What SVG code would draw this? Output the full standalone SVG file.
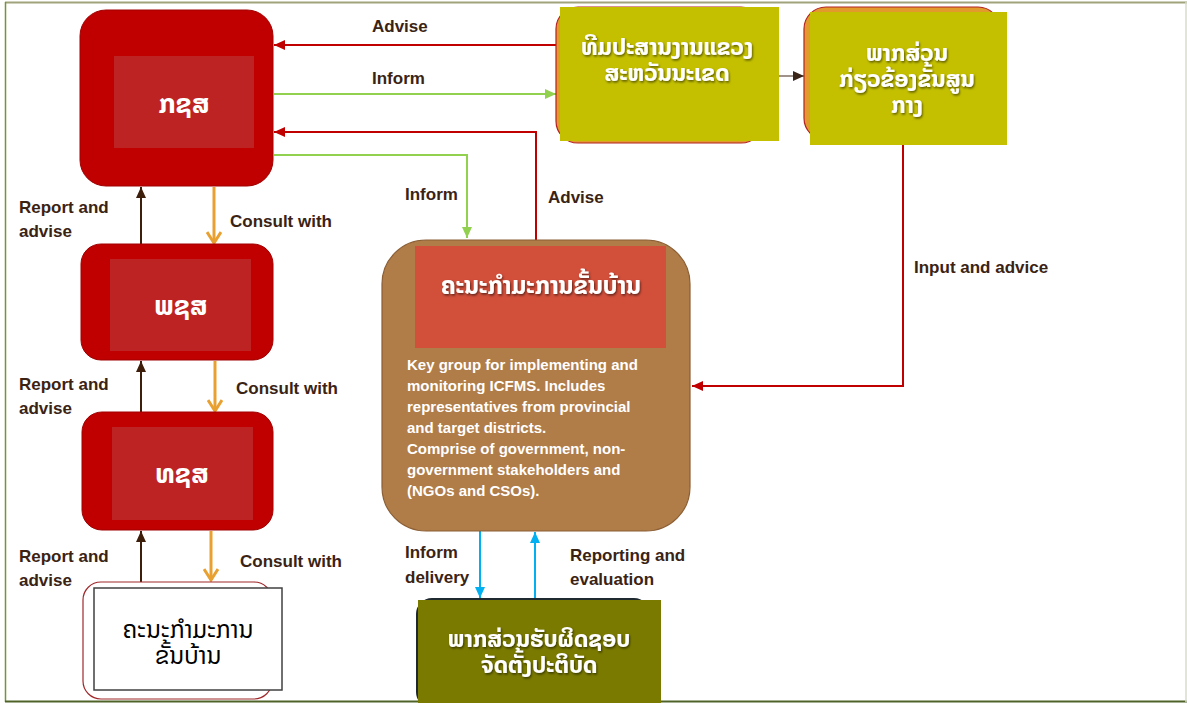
<svg xmlns="http://www.w3.org/2000/svg" width="1187" height="703" viewBox="0 0 1187 703">
<style>
.lbl{font-family:"Liberation Sans",Arial,sans-serif;font-weight:bold;font-size:17px;fill:#3B2314}
.lao{font-family:"Noto Sans Lao","DejaVu Sans",sans-serif;font-weight:bold;fill:#ffffff;text-anchor:middle}
.body{font-family:"Liberation Sans",Arial,sans-serif;font-weight:bold;font-size:15px;fill:#ffffff}
.redbox{fill:#C00000;stroke:#A00000;stroke-width:1}
.inner{fill:#BD2323}
.ln{fill:none;stroke-width:2}
</style>
<defs>
<filter id="sh" x="-10%" y="-20%" width="120%" height="150%">
<feDropShadow dx="1" dy="1.5" stdDeviation="0.8" flood-color="#000" flood-opacity="0.55"/>
</filter>
<marker id="mRed" markerUnits="userSpaceOnUse" markerWidth="12" markerHeight="10" refX="11" refY="5" orient="auto"><path d="M0,0 L11,5 L0,10 Z" fill="#C00000"/></marker>
<marker id="mGreen" markerUnits="userSpaceOnUse" markerWidth="12" markerHeight="10" refX="11" refY="5" orient="auto"><path d="M0,0 L11,5 L0,10 Z" fill="#92D050"/></marker>
<marker id="mBrown" markerUnits="userSpaceOnUse" markerWidth="12" markerHeight="10" refX="11" refY="5" orient="auto"><path d="M0,0 L11,5 L0,10 Z" fill="#3C1E0A"/></marker>
<marker id="mDark" markerUnits="userSpaceOnUse" markerWidth="12" markerHeight="10" refX="11" refY="5" orient="auto"><path d="M0,0 L11,5 L0,10 Z" fill="#3A2418"/></marker>
<marker id="mBlue" markerUnits="userSpaceOnUse" markerWidth="12" markerHeight="10" refX="11" refY="5" orient="auto"><path d="M0,0 L11,5 L0,10 Z" fill="#00B0F0"/></marker>
<marker id="mOrange" markerUnits="userSpaceOnUse" markerWidth="16" markerHeight="16" refX="13" refY="8" orient="auto"><path d="M2,1 L13,8 L2,15" fill="none" stroke="#E8A030" stroke-width="3"/></marker>
</defs>
<rect x="0" y="0" width="1187" height="703" fill="#ffffff"/>
<g id="frame">
<line x1="5" y1="2.5" x2="1187" y2="2.5" stroke="#A0A37C" stroke-width="2"/>
<line x1="5.5" y1="2" x2="5.5" y2="702" stroke="#76923C" stroke-width="1.5"/>
<line x1="5" y1="701.5" x2="1187" y2="701.5" stroke="#4F6228" stroke-width="2"/>
<line x1="1186" y1="2" x2="1186" y2="702" stroke="#D8DCC8" stroke-width="1.5"/>
</g>
<g id="connectors">
<line class="ln" x1="556" y1="45" x2="274" y2="45" stroke="#C00000" marker-end="url(#mRed)"/>
<line class="ln" x1="274" y1="94" x2="556" y2="94" stroke="#92D050" marker-end="url(#mGreen)"/>
<path class="ln" d="M536,240 V132 H274" stroke="#C00000" marker-end="url(#mRed)"/>
<path class="ln" d="M274,155 H467 V238" stroke="#92D050" marker-end="url(#mGreen)"/>
<path class="ln" d="M903,145 V386 H692" stroke="#C00000" marker-end="url(#mRed)"/>
<line x1="779" y1="76" x2="804" y2="76" stroke="#7F6F66" stroke-width="1.5" marker-end="url(#mDark)"/>
<line class="ln" x1="141" y1="244" x2="141" y2="187" stroke="#3C1E0A" marker-end="url(#mBrown)"/>
<line class="ln" x1="141" y1="412" x2="141" y2="361" stroke="#3C1E0A" marker-end="url(#mBrown)"/>
<line class="ln" x1="141" y1="582" x2="141" y2="531" stroke="#3C1E0A" marker-end="url(#mBrown)"/>
<line x1="214" y1="187" x2="214" y2="243" stroke="#E8A030" stroke-width="3" marker-end="url(#mOrange)"/>
<line x1="215" y1="361" x2="215" y2="411" stroke="#E8A030" stroke-width="3" marker-end="url(#mOrange)"/>
<line x1="211" y1="531" x2="211" y2="580" stroke="#E8A030" stroke-width="3" marker-end="url(#mOrange)"/>
<line class="ln" x1="480" y1="531" x2="480" y2="598" stroke="#00B0F0" marker-end="url(#mBlue)"/>
<line class="ln" x1="535" y1="598" x2="535" y2="532" stroke="#00B0F0" marker-end="url(#mBlue)"/>
</g>
<g id="labels">
<text class="lbl" x="372" y="32">Advise</text>
<text class="lbl" x="372" y="84">Inform</text>
<text class="lbl" x="405" y="200">Inform</text>
<text class="lbl" x="548" y="203">Advise</text>
<text class="lbl" x="914" y="273">Input and advice</text>
<text class="lbl" x="19" y="213">Report and</text>
<text class="lbl" x="19" y="237">advise</text>
<text class="lbl" x="230" y="227">Consult with</text>
<text class="lbl" x="19" y="390">Report and</text>
<text class="lbl" x="19" y="414">advise</text>
<text class="lbl" x="236" y="394">Consult with</text>
<text class="lbl" x="19" y="562">Report and</text>
<text class="lbl" x="19" y="586">advise</text>
<text class="lbl" x="240" y="567">Consult with</text>
<text class="lbl" x="405" y="558">Inform</text>
<text class="lbl" x="405" y="583">delivery</text>
<text class="lbl" x="570" y="561">Reporting and</text>
<text class="lbl" x="570" y="585">evaluation</text>
</g>
<g id="node-kns">
<rect class="redbox" x="80" y="10" width="193" height="176" rx="26"/>
<rect class="inner" x="114" y="56" width="140" height="92"/>
<text class="lao" x="184" y="113" font-size="27">ກຊສ</text>
</g>
<g id="node-pns">
<rect class="redbox" x="81" y="244" width="192" height="116" rx="20"/>
<rect class="inner" x="110" y="259" width="141" height="92"/>
<text class="lao" x="181" y="315" font-size="27">ພຊສ</text>
</g>
<g id="node-tns">
<rect class="redbox" x="82" y="412" width="191" height="118" rx="20"/>
<rect class="inner" x="112" y="427" width="141" height="93"/>
<text class="lao" x="182" y="483" font-size="27">ທຊສ</text>
</g>
<g id="node-village">
<rect x="83" y="582" width="189" height="117" rx="18" fill="#ffffff" stroke="#A0282B" stroke-width="1.2"/>
<rect x="94" y="588" width="188" height="102" fill="#ffffff" stroke="#404040" stroke-width="1.5"/>
<text x="188" y="638" font-family="'Noto Sans Lao','DejaVu Sans',sans-serif" font-size="24" fill="#000000" text-anchor="middle">ຄະນະກຳມະການ</text>
<text x="188" y="664" font-family="'Noto Sans Lao','DejaVu Sans',sans-serif" font-size="24" fill="#000000" text-anchor="middle">ຂັ້ນບ້ານ</text>
</g>
<g id="node-provteam">
<rect x="556" y="7" width="207" height="136" rx="22" fill="#E39A2C" stroke="#B22222" stroke-width="1.2"/>
<rect x="560" y="7" width="219" height="134" fill="#C4C000"/>
<text class="lao" x="667" y="55" font-size="23" filter="url(#sh)">ທີມປະສານງານແຂວງ</text>
<text class="lao" x="667" y="81" font-size="23" filter="url(#sh)">ສະຫວັນນະເຂດ</text>
</g>
<g id="node-central">
<rect x="804" y="7" width="196" height="133" rx="22" fill="#E39A2C" stroke="#B22222" stroke-width="1.2"/>
<rect x="810" y="12" width="197" height="133" fill="#C4C000"/>
<text class="lao" x="907" y="61" font-size="23" filter="url(#sh)">ພາກສ່ວນ</text>
<text class="lao" x="907" y="87" font-size="23" filter="url(#sh)">ກ່ຽວຂ້ອງຂັ້ນສູນ</text>
<text class="lao" x="907" y="113" font-size="23" filter="url(#sh)">ກາງ</text>
</g>
<g id="node-committee">
<rect x="382" y="240" width="308" height="291" rx="44" fill="#B07C48" stroke="#8B5E34" stroke-width="1.2"/>
<rect x="415" y="246" width="251" height="102" fill="#D24F3A"/>
<text class="lao" x="541" y="294" font-size="24" filter="url(#sh)">ຄະນະກຳມະການຂັ້ນບ້ານ</text>
<text class="body" x="407" y="370">Key group for implementing and</text>
<text class="body" x="407" y="391">monitoring ICFMS. Includes</text>
<text class="body" x="407" y="412">representatives from provincial</text>
<text class="body" x="407" y="433">and target districts.</text>
<text class="body" x="407" y="454">Comprise of government, non-</text>
<text class="body" x="407" y="475">government stakeholders and</text>
<text class="body" x="407" y="496">(NGOs and CSOs).</text>
</g>
<g id="node-implement">
<rect x="416" y="598" width="234" height="110" rx="16" fill="#1F2A30"/>
<rect x="418" y="600" width="243" height="103" fill="#7A7A00"/>
<text class="lao" x="539" y="647" font-size="23" filter="url(#sh)">ພາກສ່ວນຮັບຜິດຊອບ</text>
<text class="lao" x="539" y="673" font-size="23" filter="url(#sh)">ຈັດຕັ້ງປະຕິບັດ</text>
</g>
</svg>
